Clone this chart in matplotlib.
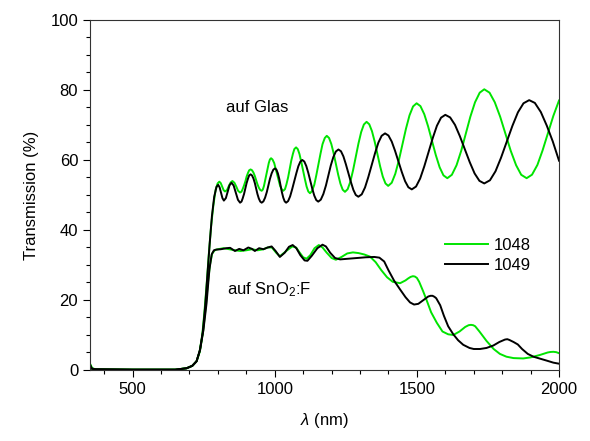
import matplotlib
matplotlib.use("Agg")
import matplotlib.pyplot as plt
from matplotlib.ticker import MultipleLocator

plt.rcParams['font.family'] = ['Liberation Sans', 'DejaVu Sans']
plt.rcParams['mathtext.fontset'] = 'custom'
plt.rcParams['mathtext.rm'] = 'Liberation Sans'
plt.rcParams['mathtext.it'] = 'Liberation Sans:italic'

# sample 1048, on glass
wl_g1048 = [352, 358, 370, 500, 650, 690, 710, 725, 735, 745, 752, 760, 768, 776, 784, 792, 799,
            805, 810, 815, 820, 825, 832, 838, 845, 851, 858, 865, 871, 878,
            883, 887, 892, 897, 901, 906, 910, 915,
            920, 925, 930, 934.5, 939, 944, 949, 954,
            958, 962, 966, 970.5, 975, 979, 983, 987,
            992, 998, 1003, 1008.5, 1014, 1019, 1025, 1030,
            1036, 1041, 1047, 1052.5, 1058, 1064, 1069, 1075,
            1081, 1087, 1093, 1099.5, 1106, 1112, 1118, 1124,
            1131, 1139, 1146, 1153.5, 1161, 1168, 1176, 1183,
            1191, 1199, 1207, 1215, 1223, 1231, 1239, 1247,
            1256.5, 1266, 1275.5, 1285, 1294.5, 1304, 1313.5, 1323,
            1332.5, 1342, 1351.5, 1361, 1370.5, 1380, 1389.5, 1399,
            1411.5, 1424, 1436.5, 1449, 1461.5, 1474, 1486.5, 1499,
            1512.5, 1526, 1539.5, 1553, 1566.5, 1580, 1593.5, 1607,
            1623, 1639.5, 1656, 1672, 1688, 1704.5, 1721, 1737,
            1755.6, 1774, 1793, 1811.5, 1830, 1849, 1867, 1886,
            1905, 1924, 1942, 1961, 1980, 2000]
t_g1048 = [1.5, 0.5, 0.2, 0.1, 0.1, 0.5, 1.2, 2.5, 5, 10, 16, 24, 33, 41, 47, 51.5, 53.3,
           53.8, 53.4, 52.4, 51.4, 51, 51.4, 52.5, 53.6, 54, 53.5, 52.35, 51.2, 50.7,
           50.95, 51.66, 52.74, 54.0, 55.26, 56.34, 57.05, 57.3,
           57.07, 56.41, 55.41, 54.25, 53.09, 52.09, 51.43, 51.2,
           51.55, 52.56, 54.07, 55.85, 57.63, 59.14, 60.15, 60.5,
           60.15, 59.14, 57.63, 55.85, 54.07, 52.56, 51.55, 51.2,
           51.67, 53.01, 55.03, 57.4, 59.77, 61.79, 63.13, 63.6,
           63.1, 61.69, 59.55, 57.05, 54.55, 52.41, 51.0, 50.5,
           51.12, 52.89, 55.57, 58.7, 61.83, 64.51, 66.28, 66.9,
           66.29, 64.56, 61.96, 58.9, 55.84, 53.24, 51.51, 50.9,
           51.66, 53.82, 57.08, 60.9, 64.72, 67.98, 70.14, 70.9,
           70.2, 68.23, 65.25, 61.75, 58.25, 55.27, 53.3, 52.6,
           53.5, 56.05, 59.89, 64.4, 68.91, 72.75, 75.3, 76.2,
           75.39, 73.08, 69.59, 65.5, 61.41, 57.92, 55.61, 54.8,
           55.77, 58.51, 62.65, 67.5, 72.35, 76.49, 79.23, 80.2,
           79.23, 76.49, 72.35, 67.5, 62.65, 58.51, 55.77, 54.8,
           55.8, 58.6, 62.7, 67.7, 72.6, 77]

# sample 1049, on glass
wl_g1049 = [352, 356, 370, 500, 650, 690, 710, 725, 737, 747, 755, 763, 771, 779, 787, 795,
            801, 806, 811, 816, 821, 828, 834.5, 841, 848, 855.5, 863, 870.5, 878,
            883, 887, 892, 896.5, 901, 906, 910, 915,
            920, 925, 930, 934.5, 939, 944, 949, 954,
            960, 966, 972, 977.5, 983, 989, 995, 1001,
            1006, 1011, 1016, 1020.5, 1025, 1030, 1035, 1040,
            1047, 1054, 1061, 1068.5, 1076, 1083, 1090, 1097,
            1104, 1111, 1118, 1125, 1132, 1139, 1146, 1153,
            1162, 1171, 1180, 1188.5, 1197, 1206, 1215, 1224,
            1233, 1241.5, 1250, 1259, 1268, 1276.5, 1285, 1294,
            1306, 1317.5, 1329, 1341, 1353, 1364.5, 1376, 1388,
            1400, 1411.5, 1423, 1435, 1447, 1458.5, 1470, 1482,
            1497, 1511.5, 1526, 1541, 1556, 1570.5, 1585, 1600,
            1617, 1634, 1651, 1668.5, 1686, 1703, 1720, 1737,
            1757, 1776.5, 1796, 1816, 1836, 1855.5, 1875, 1895,
            1915, 1936, 1957, 1978, 2000]
t_g1049 = [1.2, 0.4, 0.2, 0.1, 0.1, 0.5, 1.2, 2.5, 5.7, 11, 18, 27, 36, 44, 49.5, 52.3,
           52.9, 52.2, 50.65, 49.1, 48.4, 49.1, 50.95, 52.8, 53.5, 52.67, 50.65, 48.63, 47.8,
           48.11, 48.98, 50.3, 51.85, 53.4, 54.72, 55.59, 55.9,
           55.59, 54.72, 53.4, 51.85, 50.3, 48.98, 48.11, 47.8,
           48.17, 49.23, 50.83, 52.7, 54.57, 56.17, 57.23, 57.6,
           57.23, 56.17, 54.57, 52.7, 50.83, 49.23, 48.17, 47.8,
           48.26, 49.58, 51.57, 53.9, 56.23, 58.22, 59.54, 60,
           59.55, 58.26, 56.32, 54.05, 51.78, 49.84, 48.55, 48.1,
           48.67, 50.28, 52.7, 55.55, 58.4, 60.82, 62.43, 63,
           62.49, 61.03, 58.83, 56.25, 53.67, 51.47, 50.01, 49.5,
           50.19, 52.14, 55.09, 58.55, 62.01, 64.96, 66.91, 67.6,
           66.99, 65.26, 62.66, 59.6, 56.54, 53.94, 52.21, 51.6,
           52.41, 54.71, 58.18, 62.25, 66.32, 69.79, 72.09, 72.9,
           72.16, 70.04, 66.84, 63.1, 59.36, 56.16, 54.04, 53.3,
           54.2, 56.77, 60.65, 65.2, 69.75, 73.63, 76.2, 77.1,
           76.3, 73.7, 69.8, 65.3, 59.8]

# sample 1048, on SnO2:F
wl_s1048 = [352, 356, 370, 500, 650, 690, 710, 725, 737, 748, 757, 765, 772, 780, 790, 800, 820,
            840, 860, 880, 900, 920, 940, 960, 975, 990, 1005, 1018, 1030, 1045, 1062, 1075, 1088,
            1100, 1112, 1125, 1140, 1155, 1168, 1183, 1200, 1215, 1235, 1255, 1275, 1295, 1315,
            1335, 1355, 1375, 1395, 1415, 1441, 1460, 1470, 1478, 1486, 1493, 1500, 1508, 1522,
            1534, 1550, 1570, 1590, 1610, 1628, 1650, 1670, 1682, 1690, 1698, 1705, 1720, 1745,
            1770, 1792, 1815, 1840, 1874, 1900, 1933, 1960, 1970, 1980, 1990, 2000]
t_s1048 = [1.2, 0.4, 0.2, 0.1, 0.1, 0.5, 1.2, 2.5, 5.5, 11, 18, 25, 30, 33.3, 34.3, 34.5, 34.8,
           34.5, 34.2, 34, 34.2, 34.5, 34.2, 34.5, 35, 35, 33.5, 32.5, 33.3, 34.3, 35.3, 35, 33.5,
           32.2, 31.8, 32.8, 34.8, 35.7, 35, 33.5, 32, 31.5, 32.3, 33.3, 33.6, 33.4, 33,
           32.4, 30.8, 28.5, 26.5, 25.2, 24.8, 25.6, 26.2, 26.6, 26.8, 26.7, 26.3, 25.2, 22.5,
           20, 16.5, 13.5, 11, 10.2, 10, 11, 12.3, 12.8, 12.9, 12.8, 12.5, 11, 8.3,
           6, 4.6, 3.8, 3.4, 3.3, 3.6, 4.3, 5, 5.15, 5.2, 5.1, 4.8]

# sample 1049, on SnO2:F
wl_s1049 = [352, 356, 370, 500, 650, 690, 710, 725, 737, 749, 760, 770, 778, 786, 795, 810, 830,
            843, 860, 875, 890, 907, 920, 930, 945, 960, 975, 989, 1003, 1018, 1035, 1050, 1063,
            1076, 1090, 1105, 1115, 1130, 1150, 1168, 1180, 1195, 1212, 1230, 1260, 1290, 1320,
            1350, 1368, 1385, 1400, 1420, 1441, 1460, 1476, 1490, 1505, 1520, 1540, 1548, 1555,
            1562, 1568, 1582, 1595, 1610, 1628, 1645, 1663, 1685, 1700, 1722, 1745, 1769, 1790,
            1810, 1818, 1825, 1840, 1855, 1870, 1890, 1910, 1935, 1960, 1980, 2000]
t_s1049 = [1.0, 0.4, 0.2, 0.1, 0.1, 0.5, 1.2, 2.5, 5.7, 11.4, 19, 28.6, 33, 34.2, 34.4, 34.5, 34.8,
           34.9, 34, 34.6, 34.2, 35, 34.6, 34, 34.8, 34.5, 35, 35.3, 34, 32.3, 33.5, 35.2, 35.7,
           34.8, 32.8, 31.3, 31.2, 32.6, 34.8, 35.8, 35.3, 33.5, 32, 31.6, 31.8, 32, 32.2,
           32.3, 32.1, 31, 28.5, 25.5, 23, 20.8, 19.3, 18.7, 18.9, 19.8, 21, 21.2, 21.2,
           20.9, 20.5, 18.5, 15.5, 12.5, 10.2, 8.5, 7.2, 6.3, 6, 6, 6.3, 7, 8,
           8.7, 8.8, 8.6, 8, 7.3, 6, 4.6, 3.8, 3.2, 2.6, 2.1, 1.8]

green = '#00e400'
fig = plt.figure(figsize=(5.9, 4.41), dpi=100)
ax = fig.add_axes([0.1525, 0.161, 0.795, 0.7937])

ax.plot(wl_g1048, t_g1048, color=green, lw=1.4, label='1048')
ax.plot(wl_s1048, t_s1048, color=green, lw=1.4)
ax.plot(wl_g1049, t_g1049, color='black', lw=1.4, label='1049')
ax.plot(wl_s1049, t_s1049, color='black', lw=1.4)

ax.set_xlim(350, 2000)
ax.set_ylim(0, 100)
ax.xaxis.set_major_locator(MultipleLocator(500))
ax.xaxis.set_minor_locator(MultipleLocator(100))
ax.yaxis.set_major_locator(MultipleLocator(20))
ax.yaxis.set_minor_locator(MultipleLocator(5))
ax.tick_params(which='major', direction='out', length=5, width=0.8, labelsize=12)
ax.tick_params(which='minor', direction='out', length=3, width=0.8)
for s in ax.spines.values():
    s.set_linewidth(0.8)
    s.set_color('#333333')

ax.set_xlabel(r'$\lambda$ (nm)', fontsize=12, labelpad=10)
ax.set_ylabel('Transmission (%)', fontsize=12, labelpad=8)

ax.text(828, 75, 'auf Glas', fontsize=12, va='center', ha='left')
ax.text(832, 23, r'auf SnO$_2$:F', fontsize=12, va='center', ha='left')

ax.legend(loc='upper left', bbox_to_anchor=(0.725, 0.42), frameon=False, fontsize=12,
          handlelength=2.6, handletextpad=0.3, labelspacing=0.3)

fig.savefig('out.png', dpi=100)
